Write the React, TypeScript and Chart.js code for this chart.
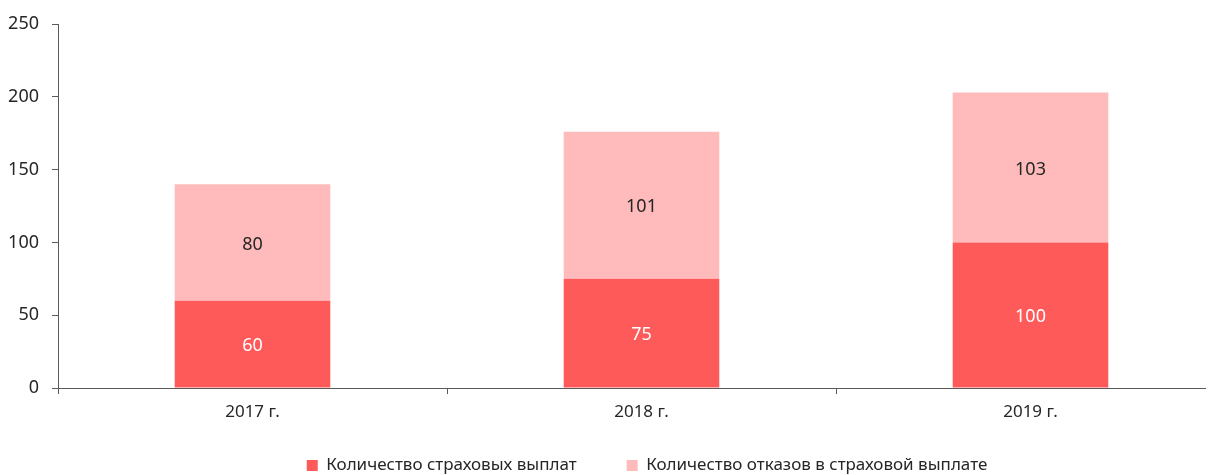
import React, { useEffect, useRef } from "react";
import { Chart, registerables } from "chart.js";

Chart.register(...registerables);

const categories = ["2017 г.", "2018 г.", "2019 г."];
const paymentsLabel = "Количество страховых выплат";
const refusalsLabel = "Количество отказов в страховой выплате";
const payments = [60, 75, 100];
const refusals = [80, 101, 103];
const yTicks = [0, 50, 100, 150, 200, 250];

const FONT = "'Noto Sans', sans-serif";
const AXIS_COLOR = "#5a5a5a";
const TEXT_COLOR = "#262626";

const barLabels = {
  id: "barLabels",
  afterDatasetsDraw(chart: any) {
    const ctx = chart.ctx;
    ctx.save();
    ctx.font = `18px ${FONT}`;
    ctx.textAlign = "center";
    ctx.textBaseline = "middle";
    chart.data.datasets.forEach((ds: any, di: number) => {
      const meta = chart.getDatasetMeta(di);
      meta.data.forEach((bar: any, i: number) => {
        const { x, y, base } = bar.getProps(["x", "y", "base"], true);
        ctx.fillStyle = di === 0 ? "#ffffff" : TEXT_COLOR;
        ctx.fillText(String(ds.data[i]), x, (y + base) / 2 + 2);
      });
    });
    ctx.restore();
  },
};

// Pull the legend a little closer to the axis labels (layout tweak only).
const legendShift = {
  id: "legendShift",
  afterLayout(chart: any) {
    const l = chart.legend;
    if (l) {
      l.top -= 21;
      l.bottom -= 21;
    }
  },
};

export default function App() {
  const ref = useRef<HTMLCanvasElement | null>(null);
  useEffect(() => {
    if (!ref.current) return;
    const chart = new Chart(ref.current, {
      type: "bar",
      data: {
        labels: categories,
        datasets: [
          {
            label: paymentsLabel,
            data: payments,
            backgroundColor: "#ff5a5a",
            categoryPercentage: 1,
            barPercentage: 0.4,
          },
          {
            label: refusalsLabel,
            data: refusals,
            backgroundColor: "#ffbbbb",
            categoryPercentage: 1,
            barPercentage: 0.4,
          },
        ],
      },
      options: {
        animation: false,
        responsive: false,
        maintainAspectRatio: false,
        layout: { padding: { top: 16, left: 0, right: 0, bottom: 0 } },
        plugins: {
          legend: {
            position: "bottom",
            labels: {
              boxWidth: 11,
              boxHeight: 11,
              padding: 50,
              color: TEXT_COLOR,
              font: { family: FONT, size: 17 },
            },
          },
          tooltip: { enabled: false },
        },
        scales: {
          x: {
            stacked: true,
            grid: {
              drawOnChartArea: false,
              drawTicks: true,
              tickLength: 6,
              color: AXIS_COLOR,
              offset: true,
            },
            border: { display: true, color: AXIS_COLOR, width: 1 },
            ticks: {
              padding: 8,
              color: TEXT_COLOR,
              font: { family: FONT, size: 17 },
            },
            afterFit: (s: any) => {
              s.height = 40;
            },
          },
          y: {
            stacked: true,
            min: 0,
            max: 250,
            afterBuildTicks: (s: any) => {
              s.ticks = yTicks.map((v) => ({ value: v }));
            },
            grid: {
              drawOnChartArea: false,
              tickLength: 6,
              color: AXIS_COLOR,
            },
            border: { display: true, color: AXIS_COLOR, width: 1 },
            ticks: {
              padding: 13,
              color: TEXT_COLOR,
              font: { family: FONT, size: 18 },
            },
            afterFit: (s: any) => {
              s.width = 50;
              s.paddingTop = 0;
              s.paddingBottom = 0;
            },
          },
          spacer: {
            position: "right",
            display: true,
            grid: { display: false },
            border: { display: false },
            ticks: { display: false },
            afterFit: (s: any) => {
              s.width = 61;
              s.paddingTop = 0;
              s.paddingBottom = 0;
            },
          },
        },
      },
      plugins: [barLabels, legendShift],
    });
    return () => chart.destroy();
  }, []);
  return (
    <div style={{ width: 1278, height: 497 }}>
      <canvas ref={ref} width={1278} height={497} style={{ display: "block" }} />
    </div>
  );
}
